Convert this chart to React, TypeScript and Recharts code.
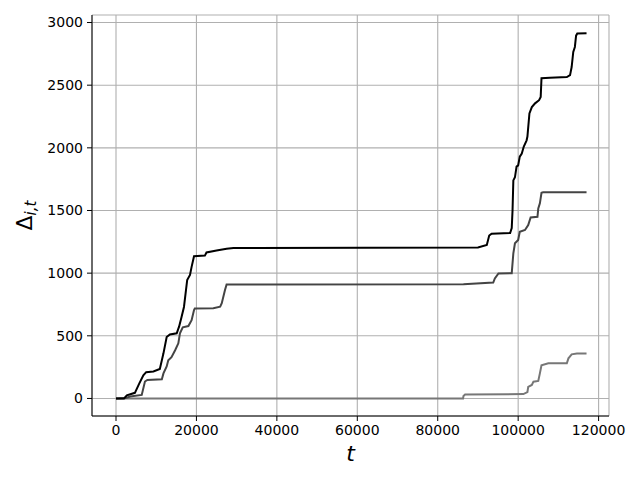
import React from "react";
import {
  LineChart,
  Line,
  XAxis,
  YAxis,
  CartesianGrid,
  Label,
} from "recharts";

const X_TICKS = [0, 20000, 40000, 60000, 80000, 100000, 120000];
const Y_TICKS = [0, 500, 1000, 1500, 2000, 2500, 3000];

// series: [t, delta]
const seriesTop: [number, number][] = [
  [0, 0], [2000, 0], [2700, 25], [4700, 45], [5800, 120], [6800, 185],
  [7500, 210], [9300, 215], [10900, 235], [11400, 305], [11800, 360],
  [12600, 490], [13400, 510], [15100, 520], [15700, 575], [16300, 650],
  [16900, 730], [17400, 865], [17700, 945], [18400, 985], [18800, 1050],
  [19400, 1135], [22100, 1140], [22500, 1165], [25000, 1180], [27500, 1195],
  [29200, 1200], [90000, 1205], [92200, 1225], [92800, 1300], [93400, 1315],
  [98000, 1320], [98400, 1360], [98600, 1500], [98800, 1740], [99200, 1765],
  [99600, 1850], [100000, 1860], [100400, 1930], [100900, 1955],
  [101400, 2010], [102100, 2060], [102300, 2090], [102800, 2275],
  [103400, 2325], [104200, 2355], [105200, 2380], [105600, 2405],
  [105800, 2555], [107900, 2560], [112100, 2565], [112900, 2580],
  [113300, 2645], [113700, 2765], [114100, 2805], [114400, 2895],
  [114700, 2912], [117000, 2915],
];

const seriesMid: [number, number][] = [
  [0, 0], [2500, 4], [3500, 15], [6400, 28], [7200, 135], [7800, 148],
  [11400, 153], [11800, 200], [12600, 255], [13000, 305], [13800, 330],
  [14700, 385], [15500, 440], [15900, 520], [16600, 568], [18000, 578],
  [18800, 625], [19400, 705], [19600, 718], [24200, 720], [25900, 732],
  [26300, 760], [27100, 865], [27500, 910], [86400, 912], [93800, 925],
  [94200, 958], [95100, 998], [98400, 1000], [98800, 1158], [99200, 1238],
  [100000, 1264], [100400, 1330], [101700, 1344], [102500, 1384],
  [103100, 1445], [104800, 1450], [105000, 1517], [105400, 1557],
  [105800, 1641], [106200, 1645], [117000, 1645],
];

const seriesLow: [number, number][] = [
  [0, 0], [86300, 0], [86400, 20], [86800, 32], [101300, 35],
  [102300, 50], [102500, 92], [103400, 108], [103800, 134], [105000, 140],
  [105400, 200], [105800, 265], [107500, 280], [112100, 280],
  [112500, 320], [113300, 352], [114600, 358], [117000, 358],
];

const toRows = (s: [number, number][]) => s.map(([t, v]) => ({ t, v }));

const FONT = "'DejaVu Sans', sans-serif";
const tickStyle = { fontSize: 14, fill: "#000", fontFamily: FONT };

export default function App() {
  return (
    <div style={{ position: "absolute", left: 0, top: 0, background: "#fff" }}>
      <LineChart
        width={640}
        height={480}
        margin={{ top: 15, right: 31, left: 32, bottom: 34 }}
      >
        <CartesianGrid stroke="#b0b0b0" strokeWidth={1.1} />
        <XAxis
          dataKey="t"
          type="number"
          domain={[-5968, 122586]}
          ticks={X_TICKS}
          allowDataOverflow
          height={30}
          tick={tickStyle}
          tickSize={5}
          tickMargin={4}
          stroke="#000"
          tickLine={{ stroke: "#000" }}
          axisLine={{ stroke: "#000" }}
        >
          <Label
            content={({ viewBox }: any) => (
              <text
                x={viewBox.x + viewBox.width / 2}
                y={viewBox.y + 45}
                textAnchor="middle"
                fontSize={22}
                fontStyle="italic"
                fontFamily={FONT}
              >
                t
              </text>
            )}
          />
        </XAxis>
        <XAxis
          xAxisId="top"
          orientation="top"
          type="number"
          domain={[-5968, 122586]}
          height={0}
          tick={false}
          tickLine={false}
          axisLine={{ stroke: "#000" }}
        />
        <YAxis
          type="number"
          domain={[-140, 3060]}
          ticks={Y_TICKS}
          allowDataOverflow
          width={60}
          tick={tickStyle}
          tickSize={5}
          tickMargin={4}
          tickLine={{ stroke: "#000" }}
          axisLine={{ stroke: "#000" }}
        >
          <Label
            content={({ viewBox }: any) => {
              const x = viewBox.x;
              const y = viewBox.y + viewBox.height / 2;
              return (
                <text
                  x={x}
                  y={y}
                  transform={`rotate(-90, ${x}, ${y})`}
                  textAnchor="middle"
                  fontSize={22}
                  fontFamily={FONT}
                >
                  <tspan>Δ</tspan>
                  <tspan fontSize={15} fontStyle="italic" dy={4}>
                    i,t
                  </tspan>
                </text>
              );
            }}
          />
        </YAxis>
        <YAxis
          yAxisId="right"
          orientation="right"
          type="number"
          domain={[-140, 3060]}
          width={0}
          tick={false}
          tickLine={false}
          axisLine={{ stroke: "#000" }}
        />
        <Line
          data={toRows(seriesLow)}
          dataKey="v"
          type="linear"
          stroke="#777777"
          strokeWidth={2}
          dot={false}
          isAnimationActive={false}
        />
        <Line
          data={toRows(seriesMid)}
          dataKey="v"
          type="linear"
          stroke="#444444"
          strokeWidth={2}
          dot={false}
          isAnimationActive={false}
        />
        <Line
          data={toRows(seriesTop)}
          dataKey="v"
          type="linear"
          stroke="#000000"
          strokeWidth={2}
          dot={false}
          isAnimationActive={false}
        />
      </LineChart>
    </div>
  );
}
